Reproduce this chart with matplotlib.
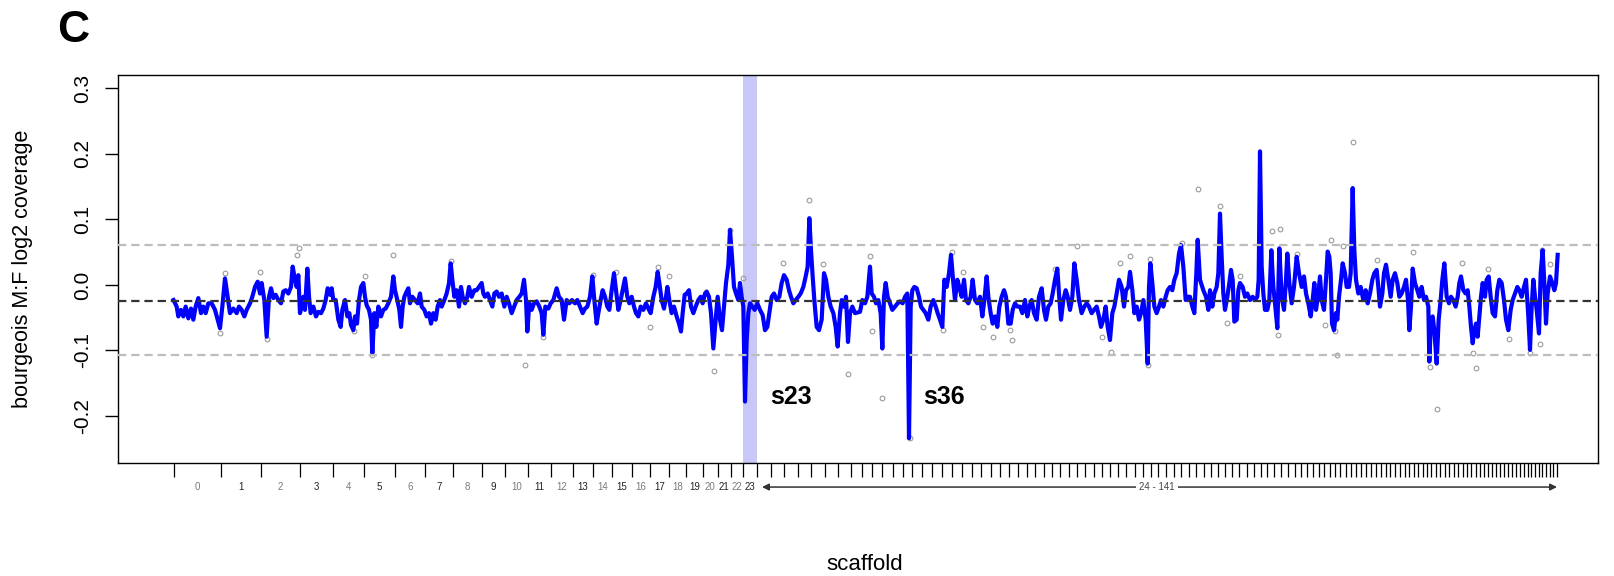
import numpy as np
import matplotlib.pyplot as plt
import matplotlib.transforms as mtransforms

plt.rcParams['font.family'] = ['Liberation Sans', 'DejaVu Sans']
plt.rcParams['lines.scale_dashes'] = False

# scaffold lengths (Mb): the 24 large ones are labelled individually
scaffold_len_main = [1.428, 1.197, 1.167, 1.005, 0.924, 0.924, 0.897, 0.855,
                     0.843, 0.708, 0.678, 0.693, 0.654, 0.597, 0.597, 0.585,
                     0.555, 0.543, 0.531, 0.489, 0.450, 0.405, 0.369, 0.411]
scaffold_len_small = [
    0.41, 0.40, 0.41, 0.40, 0.42, 0.40, 0.39,
    0.32, 0.31, 0.30, 0.31, 0.30, 0.29, 0.30, 0.30, 0.29, 0.30, 0.29, 0.30, 0.28, 0.29, 0.29,
    0.27, 0.26, 0.26, 0.25, 0.26, 0.25, 0.25, 0.26, 0.25, 0.24, 0.25, 0.25, 0.24, 0.25, 0.24,
    0.25, 0.24, 0.24, 0.23, 0.24,
    0.23, 0.22, 0.22, 0.23, 0.22, 0.21, 0.22, 0.22, 0.21, 0.21, 0.22, 0.21, 0.21, 0.20, 0.21,
    0.20, 0.21, 0.20, 0.20,
    0.18, 0.17, 0.17, 0.16, 0.17, 0.16, 0.16, 0.16, 0.15, 0.16, 0.15, 0.15, 0.15, 0.15, 0.14,
    0.15, 0.14, 0.15, 0.14, 0.14, 0.14, 0.13, 0.14, 0.13, 0.13, 0.13, 0.13,
    0.14, 0.14, 0.13, 0.14, 0.13, 0.13, 0.13, 0.13, 0.13, 0.13, 0.12, 0.13, 0.12, 0.12, 0.12,
    0.12, 0.12, 0.12, 0.12, 0.11, 0.12, 0.11, 0.11, 0.11, 0.11, 0.11, 0.11, 0.11, 0.11, 0.11]
highlight_scaffold = 23

# smoothed M:F log2 coverage along the concatenated scaffolds (position in Mb)
win_pos = [
    0.000, 0.095, 0.145, 0.225, 0.295, 0.365, 0.445, 0.525, 0.595, 0.665, 0.745, 0.825, 0.895, 0.965,
    1.045, 1.145, 1.245, 1.325, 1.395, 1.465, 1.545, 1.625, 1.695, 1.795, 1.895, 1.965, 2.045, 2.125,
    2.195, 2.295, 2.365, 2.445, 2.525, 2.595, 2.645, 2.725, 2.795, 2.865, 2.925, 2.995, 3.065, 3.145,
    3.225, 3.295, 3.365, 3.445, 3.525, 3.575, 3.645, 3.695, 3.745, 3.795, 3.845, 3.895, 3.945, 4.015,
    4.065, 4.115, 4.195, 4.275, 4.345, 4.425, 4.495, 4.565, 4.625, 4.695, 4.745, 4.795, 4.865, 4.945,
    5.015, 5.065, 5.145, 5.215, 5.275, 5.325, 5.395, 5.445, 5.505, 5.565, 5.625, 5.695, 5.745, 5.795,
    5.865, 5.925, 5.965, 6.025, 6.085, 6.145, 6.225, 6.295, 6.365, 6.445, 6.525, 6.595, 6.645, 6.715,
    6.775, 6.825, 6.875, 6.925, 6.995, 7.045, 7.095, 7.165, 7.245, 7.325, 7.395, 7.445, 7.525, 7.595,
    7.665, 7.725, 7.795, 7.865, 7.925, 7.995, 8.045, 8.125, 8.195, 8.265, 8.315, 8.365, 8.425, 8.495,
    8.565, 8.625, 8.675, 8.745, 8.815, 8.865, 8.945, 9.025, 9.095, 9.165, 9.245, 9.295, 9.345, 9.425,
    9.495, 9.565, 9.625, 9.695, 9.765, 9.845, 9.925, 9.995, 10.065, 10.145,
    10.295, 10.375, 10.445, 10.515, 10.575, 10.615, 10.675, 10.745, 10.815, 10.895, 10.975, 11.045,
    11.095, 11.155, 11.245, 11.315, 11.395, 11.495, 11.565, 11.645, 11.715, 11.795, 11.875, 11.955,
    12.045, 12.115, 12.195, 12.275, 12.345, 12.415, 12.495, 12.565, 12.625, 12.695, 12.745, 12.815,
    12.875, 12.945, 13.015, 13.075, 13.145, 13.215, 13.275, 13.345, 13.415, 13.475, 13.545, 13.615,
    13.675, 13.745, 13.815, 13.875, 13.945, 14.015, 14.095, 14.175, 14.245, 14.315, 14.395, 14.465,
    14.525, 14.575, 14.645, 14.715, 14.775, 14.815, 14.875, 14.945, 15.015, 15.095, 15.165, 15.225,
    15.275, 15.335, 15.395, 15.465, 15.525, 15.595, 15.665, 15.745, 15.815, 15.875, 15.945, 15.995,
    16.065, 16.125, 16.195, 16.265, 16.325, 16.395, 16.455, 16.515, 16.575, 16.645, 16.695, 16.755,
    16.815, 16.875, 16.945, 16.995, 17.045, 17.095, 17.145, 17.195, 17.245, 17.295, 17.365, 17.435,
    17.515, 17.595, 17.675, 17.745, 17.815, 17.875, 17.945, 18.015, 18.095, 18.175, 18.245, 18.315,
    18.395, 18.465, 18.525, 18.595, 18.665, 18.745, 18.815, 18.895, 18.965, 19.025, 19.075, 19.125,
    19.175, 19.225, 19.295, 19.365, 19.445, 19.515, 19.575, 19.645, 19.715, 19.795, 19.865, 19.925,
    19.995, 20.045, 20.115, 20.175, 20.235, 20.295, 20.365, 20.445,
    20.595, 20.665, 20.745, 20.815, 20.895, 20.945, 21.015, 21.075, 21.145, 21.215, 21.265, 21.315,
    21.365, 21.425, 21.495, 21.565, 21.645, 21.725, 21.795, 21.875, 21.945, 22.015, 22.065, 22.115,
    22.165, 22.225, 22.295, 22.365, 22.425, 22.495, 22.565, 22.645, 22.715, 22.795, 22.865, 22.925,
    22.995, 23.065, 23.125, 23.195, 23.265, 23.325, 23.395, 23.445, 23.515, 23.575, 23.645, 23.715,
    23.775, 23.845, 23.915, 23.975, 24.045, 24.115, 24.195, 24.265, 24.325, 24.395, 24.445, 24.515,
    24.575, 24.645, 24.715, 24.775, 24.845, 24.915, 24.975, 25.045, 25.115, 25.175, 25.245, 25.315,
    25.395, 25.465, 25.545, 25.615, 25.675, 25.745, 25.815, 25.895, 25.965, 26.045, 26.115, 26.175,
    26.245, 26.315, 26.375, 26.445, 26.515, 26.565, 26.625, 26.695, 26.765, 26.825, 26.895, 26.965,
    27.025, 27.095, 27.165, 27.245, 27.325, 27.395, 27.465, 27.545, 27.615, 27.695, 27.765, 27.825,
    27.895, 27.965, 28.025, 28.095, 28.165, 28.225, 28.295, 28.365, 28.445, 28.515, 28.575, 28.645,
    28.695, 28.765, 28.825, 28.895, 28.965, 29.025, 29.095, 29.165, 29.225, 29.265, 29.305, 29.365,
    29.425, 29.495, 29.565, 29.625, 29.695, 29.765, 29.825, 29.895, 29.965, 30.025, 30.095, 30.165,
    30.225, 30.295, 30.365, 30.425, 30.495, 30.565, 30.625, 30.685, 30.725, 30.795,
    30.895, 30.975, 31.045, 31.095, 31.165, 31.225, 31.295, 31.345, 31.395, 31.445, 31.495, 31.545,
    31.615, 31.675, 31.725, 31.775, 31.825, 31.895, 31.945, 31.995, 32.075, 32.145, 32.215, 32.295,
    32.375, 32.445, 32.515, 32.555, 32.595, 32.645, 32.695, 32.745, 32.815, 32.875, 32.935, 32.995,
    33.055, 33.115, 33.175, 33.245, 33.315, 33.375, 33.415, 33.475, 33.545, 33.615, 33.695, 33.765,
    33.845, 33.915, 33.975, 34.045, 34.115, 34.175, 34.225, 34.275, 34.345, 34.395, 34.445, 34.515,
    34.575, 34.625, 34.675, 34.715, 34.755, 34.815, 34.875, 34.915, 34.965, 35.025, 35.075, 35.145,
    35.195, 35.265, 35.315, 35.375, 35.425, 35.475, 35.545, 35.615, 35.695, 35.765, 35.825, 35.895,
    35.965, 36.025, 36.095, 36.145, 36.195, 36.265, 36.315, 36.375, 36.445, 36.515, 36.575, 36.645,
    36.715, 36.775, 36.845, 36.915, 36.975, 37.035, 37.075, 37.125, 37.175, 37.245, 37.315, 37.375,
    37.445, 37.515, 37.575, 37.645, 37.675, 37.725, 37.775, 37.825, 37.895, 37.955, 38.015, 38.065,
    38.125, 38.195, 38.265, 38.325, 38.395, 38.465, 38.525, 38.575, 38.625, 38.695, 38.765, 38.825,
    38.875, 38.925, 38.975, 39.025, 39.075, 39.125, 39.175, 39.225, 39.275, 39.345, 39.395, 39.455,
    39.515, 39.575, 39.645, 39.715, 39.775, 39.845, 39.915, 39.975, 40.045, 40.115, 40.175, 40.245,
    40.315, 40.375, 40.445, 40.515, 40.575, 40.645, 40.695, 40.745, 40.795, 40.845, 40.895, 40.965,
    41.015, 41.075, 41.125, 41.175, 41.225, 41.295, 41.365, 41.425, 41.475, 41.525]
win_ratio = [
    -0.023, -0.033, -0.048, -0.038, -0.048, -0.033, -0.051, -0.036, -0.053, -0.033, -0.020, -0.043, -0.033, -0.043,
    -0.028, -0.028, -0.038, -0.053, -0.066, -0.033, 0.010, -0.018, -0.043, -0.036, -0.043, -0.033, -0.038, -0.048,
    -0.038, -0.028, -0.018, -0.003, 0.005, -0.013, 0.003, -0.023, -0.079, -0.018, -0.005, -0.020, -0.015, -0.023,
    -0.028, -0.010, -0.008, -0.013, -0.003, 0.028, 0.008, -0.003, 0.015, -0.043, -0.033, -0.018, -0.038, 0.025,
    -0.018, -0.043, -0.033, -0.048, -0.041, -0.043, -0.036, -0.023, -0.005, -0.015, -0.005, -0.023, -0.023, -0.053,
    -0.064, -0.038, -0.023, -0.048, -0.043, -0.061, -0.069, -0.048, -0.059, -0.023, -0.003, 0.003, -0.018, -0.031,
    -0.038, -0.053, -0.104, -0.043, -0.064, -0.033, -0.048, -0.038, -0.036, -0.028, -0.018, 0.013, -0.008, -0.023,
    -0.038, -0.064, -0.033, -0.018, -0.010, -0.005, -0.028, -0.018, -0.023, -0.028, -0.013, -0.033, -0.038, -0.048,
    -0.043, -0.059, -0.043, -0.053, -0.033, -0.023, -0.033, -0.023, -0.013, 0.003, 0.033, 0.008, -0.018, -0.008,
    -0.033, -0.003, -0.018, -0.028, -0.018, -0.003, -0.018, -0.008, -0.008, -0.003, 0.003, -0.013, -0.018, -0.013,
    -0.023, -0.033, -0.013, -0.010, -0.018, -0.013, -0.033, -0.018, -0.028, -0.043,
    -0.023, -0.018, -0.013, 0.008, -0.023, -0.071, -0.028, -0.038, -0.028, -0.025, -0.033, -0.043,
    -0.076, -0.033, -0.036, -0.028, -0.023, -0.005, -0.018, -0.023, -0.053, -0.023, -0.028, -0.023,
    -0.028, -0.023, -0.033, -0.043, -0.036, -0.033, -0.018, 0.013, -0.023, -0.059, -0.043, -0.023,
    -0.008, -0.018, -0.033, -0.038, -0.008, 0.018, -0.008, -0.038, -0.023, -0.008, 0.010, -0.018,
    -0.028, -0.018, -0.033, -0.043, -0.048, -0.033, -0.038, -0.028, -0.036, -0.043, -0.018, -0.003,
    0.020, 0.003, -0.023, -0.036, -0.018, -0.003, -0.023, -0.043, -0.033, -0.048, -0.059, -0.071,
    -0.043, -0.015, -0.013, -0.008, -0.033, -0.043, -0.033, -0.023, -0.018, -0.028, -0.013, -0.010,
    -0.018, -0.043, -0.097, -0.053, -0.018, -0.053, -0.069, -0.033, 0.003, 0.031, 0.084, 0.043,
    -0.003, -0.013, -0.023, 0.003, -0.018, -0.033, -0.178, -0.084, -0.043, -0.028, -0.033, -0.038,
    -0.028, -0.038, -0.046, -0.069, -0.064, -0.043, -0.018, -0.013, -0.023, -0.018, 0.003, 0.015,
    0.008, -0.008, -0.018, -0.028, -0.023, -0.018, -0.013, -0.003, 0.013, 0.028, 0.102, 0.053,
    0.013, -0.023, -0.064, -0.069, -0.053, 0.018, 0.008, -0.018, -0.033, -0.043, -0.064, -0.094,
    -0.043, -0.023, -0.033, -0.018, -0.087, -0.043, -0.033, -0.043,
    -0.041, -0.023, -0.028, -0.018, 0.028, -0.013, -0.018, -0.028, -0.023, -0.043, -0.097, -0.018,
    0.003, -0.018, -0.028, -0.038, -0.033, -0.028, -0.025, -0.028, -0.018, -0.013, -0.234, -0.033,
    -0.008, -0.003, -0.005, -0.018, -0.033, -0.038, -0.043, -0.053, -0.033, -0.023, -0.033, -0.043,
    -0.053, -0.064, 0.008, -0.003, 0.018, 0.046, 0.003, -0.023, 0.008, -0.003, -0.018, 0.008,
    -0.023, -0.028, -0.018, 0.008, -0.023, -0.028, -0.018, -0.048, -0.023, 0.013, -0.018, -0.043,
    -0.059, -0.048, -0.064, -0.033, -0.018, -0.008, -0.018, -0.059, -0.059, -0.038, -0.028, -0.033,
    -0.033, -0.043, -0.023, -0.048, -0.033, -0.023, -0.043, -0.053, -0.018, -0.005, -0.038, -0.053,
    -0.033, -0.028, -0.013, 0.008, 0.025, -0.013, -0.053, -0.023, -0.008, -0.018, -0.038, -0.018,
    0.033, 0.008, -0.023, -0.043, -0.033, -0.028, -0.033, -0.043, -0.038, -0.033, -0.048, -0.064,
    -0.053, -0.033, -0.064, -0.084, -0.043, -0.033, -0.013, 0.008, -0.003, -0.033, -0.008, -0.003,
    0.020, -0.008, -0.043, -0.033, -0.053, -0.043, -0.023, -0.053, -0.120, -0.003, 0.033, 0.003,
    -0.033, -0.043, -0.033, -0.023, -0.033, -0.018, -0.008, -0.003, -0.008, 0.008, 0.018, 0.048,
    0.061, 0.028, -0.023, -0.018, -0.018, -0.033, -0.043, 0.018, 0.069, 0.008,
    -0.008, -0.018, -0.038, -0.008, -0.033, -0.013, -0.003, 0.018, 0.109, 0.043, -0.013, -0.038,
    -0.018, 0.003, 0.023, 0.008, -0.056, -0.053, -0.008, 0.003, -0.003, -0.018, -0.013, -0.023,
    -0.018, -0.023, -0.018, 0.008, 0.204, 0.028, -0.013, -0.038, -0.038, -0.023, 0.053, -0.003,
    -0.033, -0.066, 0.056, -0.018, -0.038, 0.008, 0.048, 0.003, -0.028, -0.003, 0.043, 0.018,
    -0.003, 0.013, -0.013, -0.028, -0.048, -0.023, 0.003, -0.038, -0.013, 0.013, -0.023, -0.038,
    0.008, 0.051, 0.043, 0.018, -0.059, -0.069, -0.043, -0.053, -0.018, 0.008, 0.033, 0.018,
    -0.003, -0.003, 0.018, 0.148, 0.053, 0.008, -0.013, -0.003, -0.023, -0.008, -0.028, -0.013,
    0.008, 0.018, 0.023, -0.003, -0.033, -0.013, 0.018, 0.031, 0.008, -0.018, 0.008, 0.018,
    0.003, -0.018, -0.013, -0.003, 0.008, -0.023, -0.069, -0.033, 0.025, 0.003, -0.008, -0.018,
    -0.003, -0.023, -0.018, -0.033, -0.117, -0.053, -0.048, -0.069, -0.120, -0.053, -0.023, 0.008,
    0.033, -0.018, -0.028, -0.018, -0.023, -0.033, -0.018, 0.003, 0.013, -0.008, -0.013, -0.008,
    -0.033, -0.064, -0.089, -0.069, -0.059, -0.079, -0.048, -0.018, 0.003, -0.018, 0.008, 0.013,
    -0.018, -0.043, -0.048, -0.008, 0.008, 0.003, -0.023, -0.053, -0.069, -0.038, -0.023, -0.013,
    -0.003, -0.008, -0.018, -0.003, 0.008, -0.048, -0.099, -0.033, 0.008, -0.018, -0.038, -0.074,
    0.018, 0.053, 0.003, -0.059, -0.013, 0.013, 0.003, -0.008, 0.003, 0.046]

# raw per-window values that stand clear of the smoothed curve
raw_pos = [1.40, 1.55, 2.60, 2.80, 3.69, 3.77, 5.40, 5.73, 5.95, 6.59, 8.32,
           10.545, 11.095, 12.575, 13.275, 14.295, 14.545, 14.875, 16.215, 16.695, 17.075,
           18.295, 19.075, 19.495, 20.245, 20.895, 20.965, 21.265, 22.095, 23.095, 23.345,
           23.695, 24.295, 24.595, 25.095, 25.165, 26.445, 27.095, 27.845, 28.125, 28.395,
           28.695, 29.225, 29.295, 30.245, 30.745, 31.395, 31.595, 31.995, 32.945, 33.145,
           33.195, 33.695, 34.545, 34.715, 34.845, 34.895, 35.095, 35.395, 36.095, 37.195,
           37.695, 37.895, 38.645, 38.975, 39.075, 39.445, 40.075, 40.695, 40.995, 41.045,
           41.295]
raw_ratio = [-0.073, 0.018, 0.020, -0.083, 0.046, 0.056, -0.070, 0.013, -0.107, 0.046, 0.036,
             -0.122, -0.079, 0.015, 0.020, -0.064, 0.028, 0.013, -0.131, 0.084, 0.010,
             0.034, 0.130, 0.032, -0.136, 0.044, -0.071, -0.172, -0.234, -0.069, 0.051,
             0.020, -0.064, -0.079, -0.069, -0.084, 0.025, 0.059, -0.079, -0.103, 0.034,
             0.044, -0.122, 0.039, 0.064, 0.146, 0.120, -0.058, 0.013, 0.083, -0.076,
             0.085, 0.048, -0.061, 0.069, -0.071, -0.107, 0.060, 0.219, 0.038, 0.051,
             -0.125, -0.190, 0.033, -0.104, -0.126, 0.025, -0.083, -0.104, -0.090, 0.054,
             0.032]

median_ratio = -0.0245
upper_cut = 0.061
lower_cut = -0.107

callouts = [("s23", 17.90, -0.171), ("s36", 22.49, -0.171)]

bounds = np.concatenate([[0.0], np.cumsum(scaffold_len_main + scaffold_len_small)])
n_main = len(scaffold_len_main)

fig = plt.figure(figsize=(16.14, 5.76), dpi=100)
ax = fig.add_axes([118 / 1614, 113 / 576, 1480 / 1614, 388 / 576])

ax.axvspan(bounds[highlight_scaffold], bounds[highlight_scaffold + 1],
           color='#c8c8f8', lw=0, zorder=0)
ax.plot(raw_pos, raw_ratio, 'o', ms=3.4, mfc='none', mec='#9a9a9a', mew=0.8, zorder=1)
ax.plot(win_pos, win_ratio, color='#0000ff', lw=3.0, solid_joinstyle='round', zorder=2)
for yv in (upper_cut, lower_cut):
    ax.axhline(yv, color='#bdbdbd', lw=1.6, dashes=(6, 3.5), zorder=3)
ax.axhline(median_ratio, color='#333333', lw=1.6, dashes=(6, 3.5), zorder=3)

for name, xv, yv in callouts:
    ax.text(xv, yv, name, fontsize=18, fontweight='bold', ha='left', va='center')

ax.set_xlim(-1.665, 42.735)
ax.set_ylim(-0.2718, 0.3206)
ax.set_yticks([-0.2, -0.1, 0.0, 0.1, 0.2, 0.3])
ax.set_yticklabels(['-0.2', '-0.1', '0.0', '0.1', '0.2', '0.3'], rotation=90, va='center')
ax.tick_params(axis='y', length=9.5, width=1, labelsize=15, pad=9)

ax.set_xticks(bounds)
ax.tick_params(axis='x', length=10, width=0.9, labelbottom=False)
for sp in ax.spines.values():
    sp.set_linewidth(1.0)

# scaffold names under the axis
trans = mtransforms.blended_transform_factory(ax.transData, ax.transAxes)
label_y = -0.062
for i in range(n_main):
    mid = 0.5 * (bounds[i] + bounds[i + 1])
    ax.text(mid, label_y, str(i), transform=trans, fontsize=7, ha='center', va='center',
            color='#222222' if i % 2 else '#7a7a7a', clip_on=False)

ax.annotate('', xy=(bounds[-1], label_y), xytext=(bounds[n_main] + 0.15, label_y),
            xycoords=trans, textcoords=trans,
            arrowprops=dict(arrowstyle='<|-|>', color='#333333', lw=1.1,
                            mutation_scale=10, shrinkA=0, shrinkB=0))
mid_small = 0.5 * (bounds[n_main] + bounds[-1])
ax.text(mid_small, label_y, '%d - %d' % (n_main, len(bounds) - 2), transform=trans,
        fontsize=7, ha='center', va='center', color='#444444',
        bbox=dict(fc='white', ec='none', pad=2), clip_on=False)

fig.text(23 / 1614, 0.533, 'bourgeois M:F log2 coverage', rotation=90,
         fontsize=15.5, ha='center', va='center')
fig.text(865 / 1614, 1 - 564 / 576, 'scaffold', fontsize=16, ha='center', va='center')
fig.text(57 / 1614, 1 - 31 / 576, 'C', fontsize=32, fontweight='bold', ha='left', va='center')

fig.savefig('out.png', dpi=100)
